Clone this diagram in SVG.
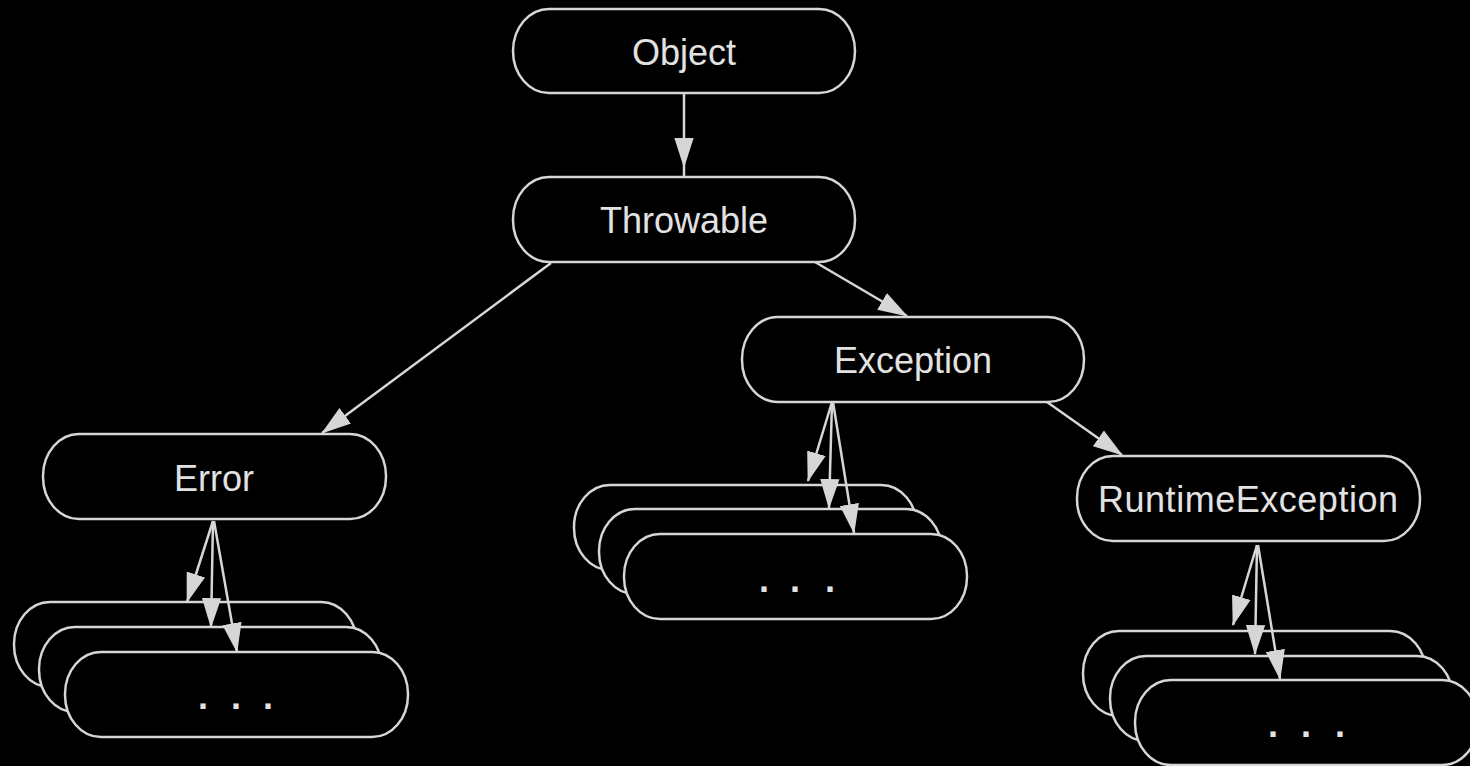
<svg xmlns="http://www.w3.org/2000/svg" width="1470" height="766" viewBox="0 0 1470 766">
<style>
.n{fill:#000;stroke:#d6d6d6;stroke-width:2.5}
.t{font-family:"Liberation Sans",Arial,sans-serif;font-size:36px;fill:#e2e2e2;text-anchor:middle}
.d{font-family:"Liberation Sans",Arial,sans-serif;font-size:36px;font-weight:bold;fill:#e2e2e2}
.e{fill:none;stroke:#d6d6d6;stroke-width:2.5}
</style>
<defs>
<marker id="ah" markerUnits="userSpaceOnUse" markerWidth="30" markerHeight="20" viewBox="0 0 28 18" refX="27" refY="9" orient="auto">
<path d="M0,0 L28,9 L0,18 z" fill="#d6d6d6"/>
</marker>
</defs>
<rect width="1470" height="766" fill="#000"/>
<g id="object"><rect class="n" x="513" y="9" width="342" height="84" rx="36" ry="42"/><text class="t" x="684" y="65">Object</text></g>
<g id="throwable"><rect class="n" x="513" y="177" width="342" height="85" rx="36" ry="42"/><text class="t" x="684" y="233">Throwable</text></g>
<g id="exception"><rect class="n" x="742" y="317" width="342" height="85" rx="36" ry="42"/><text class="t" x="913" y="373">Exception</text></g>
<g id="error"><rect class="n" x="43" y="434" width="343" height="85" rx="36" ry="42"/><text class="t" x="214" y="491">Error</text></g>
<g id="runtimeexception"><rect class="n" x="1077" y="456" width="343" height="85" rx="36" ry="42"/><text class="t" x="1248" y="512" textLength="300" lengthAdjust="spacing">RuntimeException</text></g>
<g id="error-subclasses">
<rect class="n" x="14" y="602" width="343" height="85" rx="36" ry="42"/>
<rect class="n" x="39" y="627" width="343" height="85" rx="36" ry="42"/>
<rect class="n" x="65" y="652" width="343" height="85" rx="36" ry="42"/>
<text class="d" x="198 231 263" y="709">...</text>
</g>
<g id="exception-subclasses">
<rect class="n" x="574" y="485" width="343" height="85" rx="36" ry="42"/>
<rect class="n" x="599" y="509" width="343" height="85" rx="36" ry="42"/>
<rect class="n" x="624" y="534" width="343" height="85" rx="36" ry="42"/>
<text class="d" x="759 790 825" y="592">...</text>
</g>
<g id="runtimeexception-subclasses">
<rect class="n" x="1083" y="631" width="343" height="85" rx="36" ry="42"/>
<rect class="n" x="1110" y="656" width="343" height="85" rx="36" ry="42"/>
<rect class="n" x="1135" y="680" width="343" height="85" rx="36" ry="42"/>
<text class="d" x="1268 1301 1335" y="737">...</text>
</g>
<g id="connectors">
<path class="e" d="M684,93 L684,167 L684,177" marker-mid="url(#ah)"/>
<path class="e" d="M551,263 L322,433" marker-end="url(#ah)"/>
<path class="e" d="M815,262 L907,316" marker-end="url(#ah)"/>
<path class="e" d="M1047,402 L1122,455" marker-end="url(#ah)"/>
<path class="e" d="M213,521 L187,602" marker-end="url(#ah)"/>
<path class="e" d="M213,521 L211,627" marker-end="url(#ah)"/>
<path class="e" d="M214,521 L237,652" marker-end="url(#ah)"/>
<path class="e" d="M832,402 L808,481" marker-end="url(#ah)"/>
<path class="e" d="M832,402 L829,508" marker-end="url(#ah)"/>
<path class="e" d="M833,402 L854,533" marker-end="url(#ah)"/>
<path class="e" d="M1257,545 L1233,625" marker-end="url(#ah)"/>
<path class="e" d="M1257,545 L1255,654" marker-end="url(#ah)"/>
<path class="e" d="M1258,545 L1280,679" marker-end="url(#ah)"/>
</g>
</svg>
